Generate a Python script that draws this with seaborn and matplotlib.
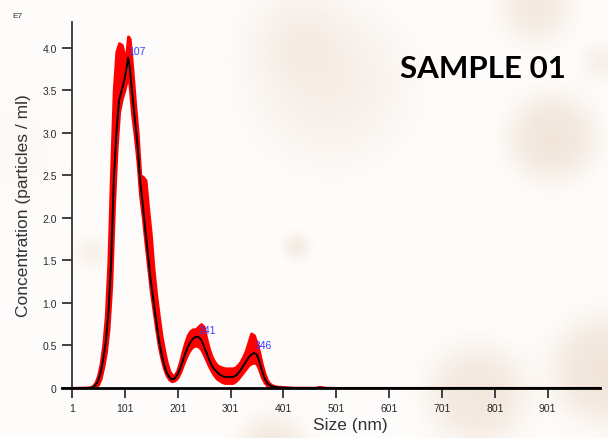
import numpy as np
import pandas as pd
import matplotlib
matplotlib.use("Agg")
import matplotlib.pyplot as plt
import seaborn as sns

# ---------------- data ----------------
size_nm = [1, 30, 35, 40, 45, 50, 55, 60, 65, 70, 75, 80, 85, 90, 95, 100, 103, 107, 110, 115, 120,
           125, 130, 135, 140, 145, 150, 155, 160, 165, 170, 175, 180, 185, 190, 195, 200,
           205, 210, 215, 220, 225, 230, 235, 240, 245, 250, 255, 260, 265, 270, 275, 280,
           285, 290, 295, 300, 305, 310, 315, 320, 325, 330, 335, 340, 345, 350, 355, 360,
           365, 370, 375, 380, 385, 390, 400, 410, 420, 460, 470, 480, 500, 1000]
mean_conc = [0, 0, 0, 0.01, 0.03, 0.08, 0.18, 0.34, 0.55, 0.90, 1.48, 2.45, 3.00, 3.38, 3.50, 3.62, 3.72, 3.88, 3.78, 3.45, 3.15,
             2.85, 2.42, 2.15, 1.84, 1.55, 1.26, 1.03, 0.80, 0.58, 0.41, 0.28, 0.18, 0.13, 0.10, 0.11, 0.15,
             0.22, 0.31, 0.40, 0.48, 0.54, 0.58, 0.60, 0.60, 0.57, 0.50, 0.42, 0.34, 0.27, 0.22, 0.19, 0.16,
             0.14, 0.13, 0.13, 0.13, 0.13, 0.14, 0.17, 0.21, 0.26, 0.31, 0.36, 0.39, 0.41, 0.40, 0.32, 0.21,
             0.12, 0.06, 0.035, 0.02, 0.012, 0.008, 0.004, 0.002, 0, 0, 0.003, 0, 0, 0]
upper_conc = [0, 0.005, 0.008, 0.02, 0.06, 0.14, 0.28, 0.50, 0.85, 1.50, 2.55, 3.50, 3.95, 4.05, 4.03, 3.90, 3.87, 4.13, 4.10, 3.75, 3.35,
              3.00, 2.50, 2.48, 2.44, 2.10, 1.80, 1.40, 1.10, 0.85, 0.62, 0.45, 0.30, 0.20, 0.15, 0.15, 0.20,
              0.30, 0.42, 0.53, 0.62, 0.67, 0.69, 0.69, 0.72, 0.75, 0.72, 0.58, 0.46, 0.37, 0.31, 0.27, 0.25,
              0.24, 0.23, 0.23, 0.23, 0.23, 0.24, 0.27, 0.31, 0.37, 0.44, 0.54, 0.64, 0.62, 0.53, 0.42, 0.28,
              0.17, 0.09, 0.05, 0.03, 0.02, 0.015, 0.01, 0.006, 0.003, 0.002, 0.012, 0.002, 0, 0]
lower_conc = [0, 0, 0, 0, 0.01, 0.04, 0.11, 0.25, 0.42, 0.70, 1.20, 2.10, 2.80, 3.25, 3.40, 3.50, 3.58, 3.70, 3.55, 3.20, 2.95,
              2.65, 2.25, 2.00, 1.70, 1.42, 1.14, 0.92, 0.70, 0.50, 0.35, 0.23, 0.15, 0.10, 0.08, 0.09, 0.12,
              0.18, 0.26, 0.34, 0.41, 0.46, 0.49, 0.50, 0.49, 0.46, 0.40, 0.33, 0.26, 0.20, 0.15, 0.11, 0.09,
              0.07, 0.06, 0.06, 0.06, 0.06, 0.08, 0.11, 0.15, 0.19, 0.23, 0.27, 0.29, 0.30, 0.29, 0.22, 0.13,
              0.07, 0.03, 0.015, 0.008, 0.004, 0.002, 0, 0, 0, 0, 0, 0, 0, 0]
peak_sizes = [107, 241, 346]
peak_values = [3.88, 0.60, 0.42]
peak_labels = ["107", "241", "346"]
x_ticks = [1, 101, 201, 301, 401, 501, 601, 701, 801, 901]
y_ticks = [0, 0.5, 1.0, 1.5, 2.0, 2.5, 3.0, 3.5, 4.0]
y_tick_labels = ["0", "0.5", "1.0", "1.5", "2.0", "2.5", "3.0", "3.5", "4.0"]

df = pd.DataFrame({"size": size_nm, "mean": mean_conc, "upper": upper_conc, "lower": lower_conc})

# ---------------- figure ----------------
sns.set_theme(style="white")
plt.rcParams["font.family"] = ["Liberation Sans", "DejaVu Sans"]

W, H = 608, 439
fig = plt.figure(figsize=(W / 100, H / 100), dpi=100)

# soft blurred background discs
bg = fig.add_axes([0, 0, 1, 1], zorder=-10)
yy, xx = np.mgrid[0:H, 0:W]
field = np.zeros((H, W))
for bx, by, br, soft, bi in [(330, 85, 62, 22, 0.30), (295, 35, 35, 15, 0.20), (552, 138, 40, 9, 0.45),
                             (535, 8, 30, 9, 0.40), (477, 395, 45, 10, 0.42), (605, 370, 50, 10, 0.45),
                             (296, 247, 10, 4, 0.38), (92, 253, 13, 5, 0.25), (272, 448, 28, 8, 0.42),
                             (600, 62, 14, 6, 0.28), (15, 150, 40, 20, 0.10)]:
    d = np.sqrt((xx - bx) ** 2 + (yy - by) ** 2)
    field += bi / (1 + np.exp((d - br) / soft))
field = np.clip(field, 0, 1)
base = np.array([255, 253, 251]) / 255.0
blob = np.array([226, 202, 182]) / 255.0
img = base[None, None, :] * (1 - field[..., None]) + blob[None, None, :] * field[..., None]
bg.imshow(img, aspect="auto", extent=[0, 1, 0, 1])
bg.axis("off")

ax = fig.add_axes([62 / W, 1 - 389 / H, 538 / W, (389 - 23) / H])
ax.set_facecolor("none")

ax.fill_between(df["size"], df["lower"], df["upper"], color="#ff0000",
                linewidth=2.2, edgecolor="#ff0000", zorder=2)
sns.lineplot(data=df, x="size", y="mean", color="black", linewidth=1.4, ax=ax, zorder=3)

for px, pv, lab in zip(peak_sizes, peak_values, peak_labels):
    ax.text(px, pv + 0.08, lab, color="#3b3bff", fontsize=7.5, ha="left", va="center", zorder=4)

ax.set_xlim(-18, 1000)
ax.set_ylim(0, 4.3)
ax.spines["left"].set_position(("data", 1))
ax.spines["right"].set_visible(False)
ax.spines["top"].set_visible(False)
ax.spines["bottom"].set_color("black")
ax.spines["bottom"].set_linewidth(2)
ax.spines["left"].set_color("#333333")
ax.spines["left"].set_linewidth(1.3)
ax.set_xticks(x_ticks)
ax.set_xticklabels([str(t) for t in x_ticks])
ax.set_yticks(y_ticks)
ax.set_yticklabels(y_tick_labels)
ax.tick_params(axis="both", direction="out", length=7, width=1.3, color="#333333",
               labelsize=7.5, labelcolor="#2a2a2a", pad=4, bottom=True, left=True)
ax.set_xlabel("Size (nm)", fontsize=12.5, color="#333333")
ax.xaxis.set_label_coords((350 - 62) / 538, (389 - 418) / 366)
ax.set_ylabel("Concentration (particles / ml)", fontsize=12.5, color="#333333", labelpad=8)
ax.grid(False)

fig.text(12 / W, 1 - 16 / H, "E7", fontsize=6, color="#333333", ha="left", va="center")
fig.text(483 / W, 1 - 69 / H, "SAMPLE 01", fontsize=22.5, fontweight="bold",
         family=["Lato", "DejaVu Sans"], color="black", ha="center", va="center")

fig.savefig("out.png", dpi=100)
